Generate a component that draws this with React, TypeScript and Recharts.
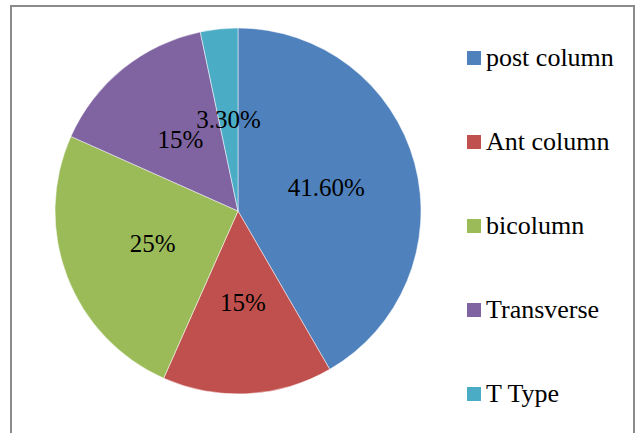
import React from 'react';
import { PieChart, Pie, Cell, Legend } from 'recharts';

const categories = ['post column', 'Ant column', 'bicolumn', 'Transverse', 'T Type'];
const values = [41.6, 15, 25, 15, 3.3];
const valueLabels = ['41.60%', '15%', '25%', '15%', '3.30%'];
const colors = ['#4F81BD', '#C0504D', '#9BBB59', '#8064A2', '#4BACC6'];

const data = categories.map((name, i) => ({ name, value: values[i], label: valueLabels[i] }));

const FONT = 'Liberation Serif, Times New Roman, serif';
const RAD = Math.PI / 180;

// eslint-disable-next-line @typescript-eslint/no-explicit-any
const renderLabel = (props: any) => {
  const { cx, cy, midAngle, outerRadius, index } = props;
  const r = outerRadius * 0.5;
  const x = cx + r * Math.cos(-midAngle * RAD);
  const y = cy + r * Math.sin(-midAngle * RAD);
  return (
    <text
      key={`lbl-${index}`}
      x={x}
      y={y}
      textAnchor="middle"
      dominantBaseline="central"
      fontFamily={FONT}
      fontSize={25}
      fill="#000"
    >
      {data[index].label}
    </text>
  );
};

const LegendContent = () => (
  <div style={{ fontFamily: FONT, fontSize: 26, color: '#000' }}>
    {data.map((d, i) => (
      <div
        key={d.name}
        style={{ height: 84, display: 'flex', alignItems: 'center', whiteSpace: 'nowrap' }}
      >
        <span
          style={{
            display: 'inline-block',
            width: 14,
            height: 14,
            background: colors[i],
            marginRight: 5,
          }}
        />
        <span>{d.name}</span>
      </div>
    ))}
  </div>
);

export default function App() {
  return (
    <div style={{ position: 'absolute', left: 0, top: 0, width: 636, height: 433, background: '#fff', overflow: 'hidden', fontFamily: FONT }}>
      <PieChart
        width={636}
        height={433}
        margin={{ top: 0, right: 0, bottom: 0, left: 0 }}
        style={{ position: 'absolute', left: 0, top: 0, fontFamily: FONT }}
      >
        <Pie
          data={data}
          dataKey="value"
          nameKey="name"
          cx={238}
          cy={211}
          outerRadius={183}
          startAngle={90}
          endAngle={-270}
          stroke="#ffffff"
          strokeWidth={0.5}
          label={renderLabel}
          labelLine={false}
          isAnimationActive={false}
        >
          {data.map((d, i) => (
            <Cell key={d.name} fill={colors[i]} />
          ))}
        </Pie>
        <Legend
          layout="vertical"
          align="right"
          verticalAlign="top"
          content={<LegendContent />}
          wrapperStyle={{ left: 467, top: 16, width: 160 }}
        />
      </PieChart>
      {/* chart frame, drawn on top so nothing hides it */}
      <div
        style={{
          position: 'absolute',
          left: 10,
          top: 5,
          width: 621,
          height: 440,
          border: '2px solid #8a8a8a',
          pointerEvents: 'none',
          zIndex: 5,
        }}
      />
    </div>
  );
}
